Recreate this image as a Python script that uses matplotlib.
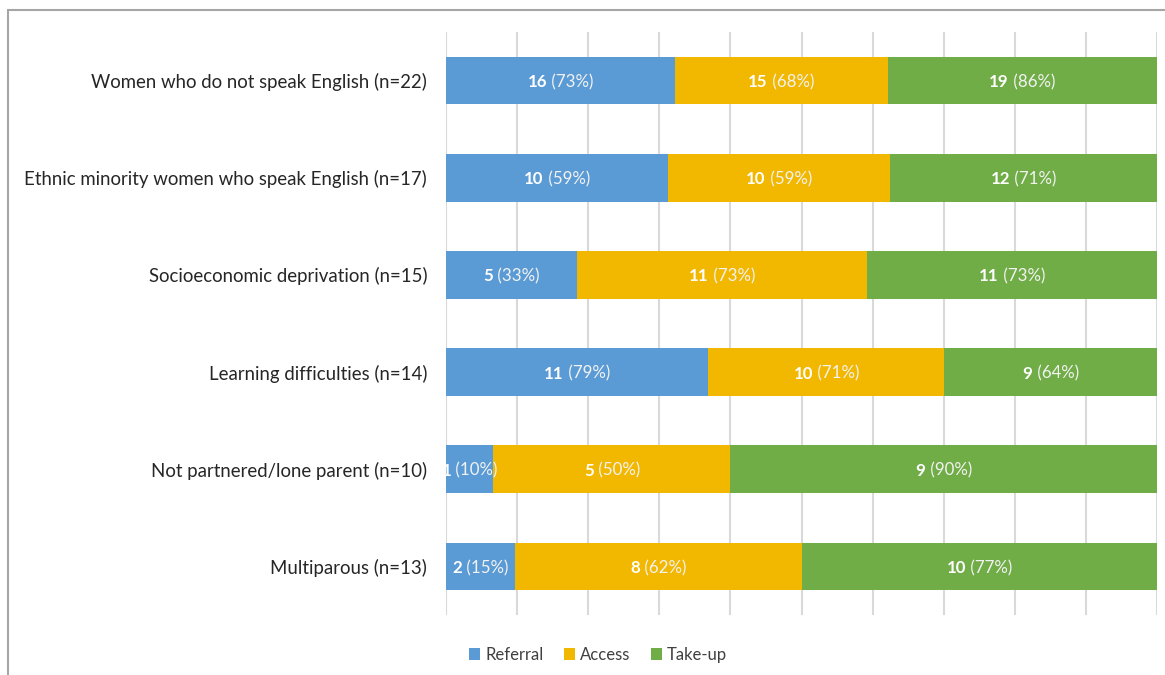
import matplotlib.pyplot as plt
import numpy as np
from matplotlib.patches import Rectangle

plt.rcParams['font.family'] = ['Lato', 'DejaVu Sans']

categories = ['Women who do not speak English (n=22)',
              'Ethnic minority women who speak English (n=17)',
              'Socioeconomic deprivation (n=15)',
              'Learning difficulties (n=14)',
              'Not partnered/lone parent (n=10)',
              'Multiparous (n=13)']
series = ['Referral', 'Access', 'Take-up']
counts = [[16, 10, 5, 11, 1, 2],
          [15, 10, 11, 10, 5, 8],
          [19, 12, 11, 9, 9, 10]]
pcts = [[73, 59, 33, 79, 10, 15],
        [68, 59, 73, 71, 50, 62],
        [86, 71, 73, 64, 90, 77]]
colors = ['#5B9BD5', '#F2B800', '#70AD47']

fig = plt.figure(figsize=(11.65, 6.75), dpi=100)
ax = fig.add_axes([446 / 1165, 1 - 615 / 675, 711 / 1165, 583 / 675])

# outer chart frame (partly cut off like the source)
fig.patches.append(Rectangle((8 / 1165, -0.1), 1.2, 1 - 10 / 675 + 0.1,
                             transform=fig.transFigure, fill=False,
                             edgecolor='#A6A6A6', linewidth=1.5))

p = np.array(pcts, dtype=float)
share = p / p.sum(axis=0)
y = np.arange(len(categories))
left = np.zeros(len(categories))
bars = []
for i, name in enumerate(series):
    b = ax.barh(y, share[i], left=left, height=0.49, color=colors[i],
                label=name, zorder=3)
    bars.append(b)
    left = left + share[i]

ax.set_xlim(0, 1)
ax.set_ylim(len(categories) - 0.5, -0.5)
ax.set_xticks(np.linspace(0, 1, 11))
ax.set_xticklabels([])
ax.tick_params(axis='x', length=0)
ax.tick_params(axis='y', length=0, pad=13.5, labelsize=13.4, labelcolor='#262626')
ax.set_yticks(y)
ax.set_yticklabels(categories)
ax.grid(axis='x', color='#D9D9D9', linewidth=1.5, zorder=0)
for s in ax.spines.values():
    s.set_visible(False)

# data labels: bold count + lighter percentage, centred together
fig.canvas.draw()
r = fig.canvas.get_renderer()
left = np.zeros(len(categories))
for i in range(len(series)):
    for j in range(len(categories)):
        xc = left[j] + share[i][j] / 2
        t1 = ax.text(xc, y[j], str(counts[i][j]), fontsize=12.2,
                     fontweight='bold', color='white', ha='left',
                     va='center_baseline', zorder=5)
        t2 = ax.text(xc, y[j], ' (%d%%)' % pcts[i][j], fontsize=12.2,
                     color='#F2F2F2', ha='left', va='center_baseline', zorder=5)
        w1 = t1.get_window_extent(r).width
        w2 = t2.get_window_extent(r).width
        px0 = ax.transData.transform((xc, y[j]))[0] - (w1 + w2) / 2
        x1 = ax.transData.inverted().transform((px0, 0))[0]
        x2 = ax.transData.inverted().transform((px0 + w1, 0))[0]
        t1.set_x(x1)
        t2.set_x(x2)
    left = left + share[i]

fig.legend(handles=bars, labels=series, loc='center',
           bbox_to_anchor=(598 / 1165, 1 - 655 / 675), ncol=3, frameon=False,
           fontsize=12, handlelength=0.7, handleheight=0.7,
           handletextpad=0.3, columnspacing=1.2, labelcolor='#404040')

fig.savefig('out.png', dpi=100)
